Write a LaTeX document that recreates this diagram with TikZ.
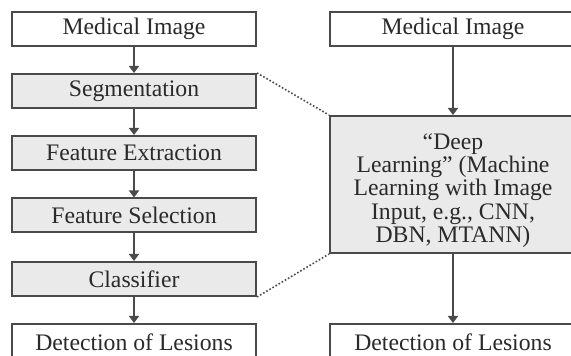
\documentclass[tikz,border=0pt]{standalone}
\usepackage{fontspec}
\setmainfont{Liberation Serif}
\usetikzlibrary{arrows.meta}
\definecolor{ln}{HTML}{4A4A4A}
\definecolor{tx}{HTML}{2A2A2A}
\definecolor{gfill}{HTML}{EAEAEA}
\tikzset{
  box/.style={draw=ln, line width=1pt, inner sep=0pt, minimum height=17pt, text=tx,
    font=\fontsize{11.85}{11.6}\selectfont, align=center},
  lbox/.style={box, minimum width=122pt},
  rbox/.style={box, minimum width=123pt},
  gbox/.style={fill=gfill},
  wbox/.style={fill=white},
  arr/.style={draw=ln, line width=0.9pt, -{Triangle[width=5pt,length=3.5pt]}},
  dots/.style={draw=ln, line width=0.8pt, densely dotted}
}
\begin{document}
\begin{tikzpicture}[x=0.5pt,y=-0.5pt]
\useasboundingbox (0,0) rectangle (571,356);
\clip (0,0) rectangle (571,356);
\fill[white] (0,0) rectangle (571,356);
% left column
\node[lbox,wbox] (lmi) at (134,29) {Medical Image};
\node[lbox,gbox] (seg) at (134,91) {Segmentation};
\node[lbox,gbox] (fe) at (134,153) {Feature Extraction};
\node[lbox,gbox] (fs) at (134,215.5) {Feature Selection};
\node[lbox,gbox] (cl) at (134,279) {Classifier};
\node[lbox,wbox,minimum height=18.5pt] (ldet) at (134,342.5) {Detection of Lesions};
% right column
\node[rbox,wbox] (rmi) at (453,29) {Medical Image};
\node[rbox,gbox,minimum height=68.5pt] (dl) at (453,184.5) {};
\node[box,draw=none] (dltxt) at ([yshift=-3pt]dl.center) {``Deep\\Learning'' (Machine\\Learning with Image\\Input, e.g., CNN,\\DBN, MTANN)};
\node[rbox,wbox,minimum height=18.5pt] (rdet) at (453,342.5) {Detection of Lesions};
% arrows
\draw[arr] (lmi) -- (seg);
\draw[arr] (seg) -- (fe);
\draw[arr] (fe) -- (fs);
\draw[arr] (fs) -- (cl);
\draw[arr] (cl) -- (ldet);
\draw[arr] (rmi) -- (dl);
\draw[arr] (dl) -- (rdet);
% dotted
\draw[dots] (seg.north east) -- (dl.north west);
\draw[dots] (cl.south east) -- (dl.south west);
\end{tikzpicture}
\end{document}
